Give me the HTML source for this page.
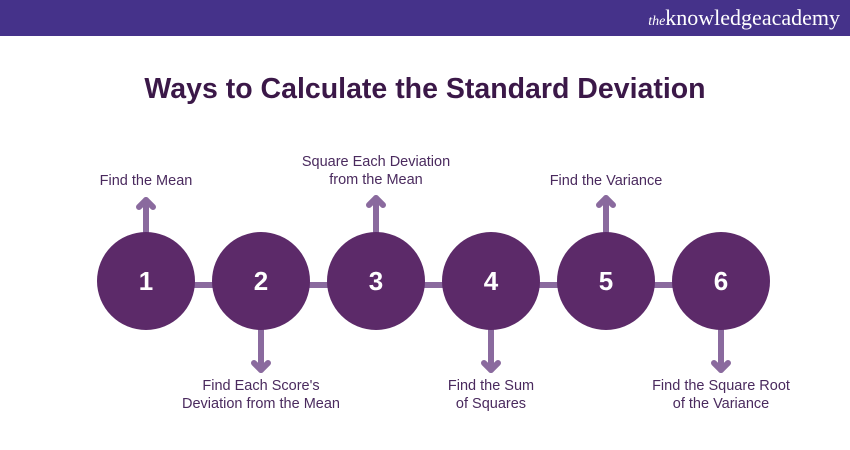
<!DOCTYPE html>
<html><head><style>
body{margin:0;width:850px;height:450px;background:#fff;position:relative;overflow:hidden;font-family:"Liberation Sans",sans-serif}
.bar{position:absolute;left:0;top:0;width:850px;height:36px;background:#45328a}
.logo{position:absolute;right:10px;top:5px;color:#fff;font-family:"Liberation Serif",serif;font-size:22px}
.logo i{font-size:14px}
.title{position:absolute;left:0;width:850px;top:73px;text-align:center;font-size:28.5px;font-weight:bold;color:#3b1848}
.lbl{position:absolute;width:220px;text-align:center;font-size:14.5px;color:#4a2a5e;line-height:18px}
</style></head><body>
<div class="bar"></div>
<div class="logo"><i>the</i>knowledgeacademy</div>
<div class="title">Ways to Calculate the Standard Deviation</div>
<svg width="850" height="450" style="position:absolute;left:0;top:0">
<g stroke="#8a6a9e" stroke-width="6" fill="none" stroke-linecap="round" stroke-linejoin="round">
<line x1="146" y1="285" x2="721" y2="285"/>
<line x1="146" y1="232" x2="146" y2="200"/><polyline points="139,207 146,200 153,207"/>
<line x1="376" y1="232" x2="376" y2="198"/><polyline points="369,205 376,198 383,205"/>
<line x1="606" y1="232" x2="606" y2="198"/><polyline points="599,205 606,198 613,205"/>
<line x1="261" y1="330" x2="261" y2="370"/><polyline points="254,363 261,370 268,363"/>
<line x1="491" y1="330" x2="491" y2="370"/><polyline points="484,363 491,370 498,363"/>
<line x1="721" y1="330" x2="721" y2="370"/><polyline points="714,363 721,370 728,363"/>
</g>
<g fill="#5c2a69">
<circle cx="146" cy="281" r="49"/><circle cx="261" cy="281" r="49"/><circle cx="376" cy="281" r="49"/>
<circle cx="491" cy="281" r="49"/><circle cx="606" cy="281" r="49"/><circle cx="721" cy="281" r="49"/>
</g>
<g fill="#fff" font-family="Liberation Sans" font-weight="bold" font-size="26" text-anchor="middle">
<text x="146" y="290">1</text><text x="261" y="290">2</text><text x="376" y="290">3</text>
<text x="491" y="290">4</text><text x="606" y="290">5</text><text x="721" y="290">6</text>
</g>
</svg>
<div class="lbl" style="left:36px;top:172px">Find the Mean</div>
<div class="lbl" style="left:266px;top:153px">Square Each Deviation<br>from the Mean</div>
<div class="lbl" style="left:496px;top:172px">Find the Variance</div>
<div class="lbl" style="left:151px;top:377px">Find Each Score's<br>Deviation from the Mean</div>
<div class="lbl" style="left:381px;top:377px">Find the Sum<br>of Squares</div>
<div class="lbl" style="left:611px;top:377px">Find the Square Root<br>of the Variance</div>
</body></html>
